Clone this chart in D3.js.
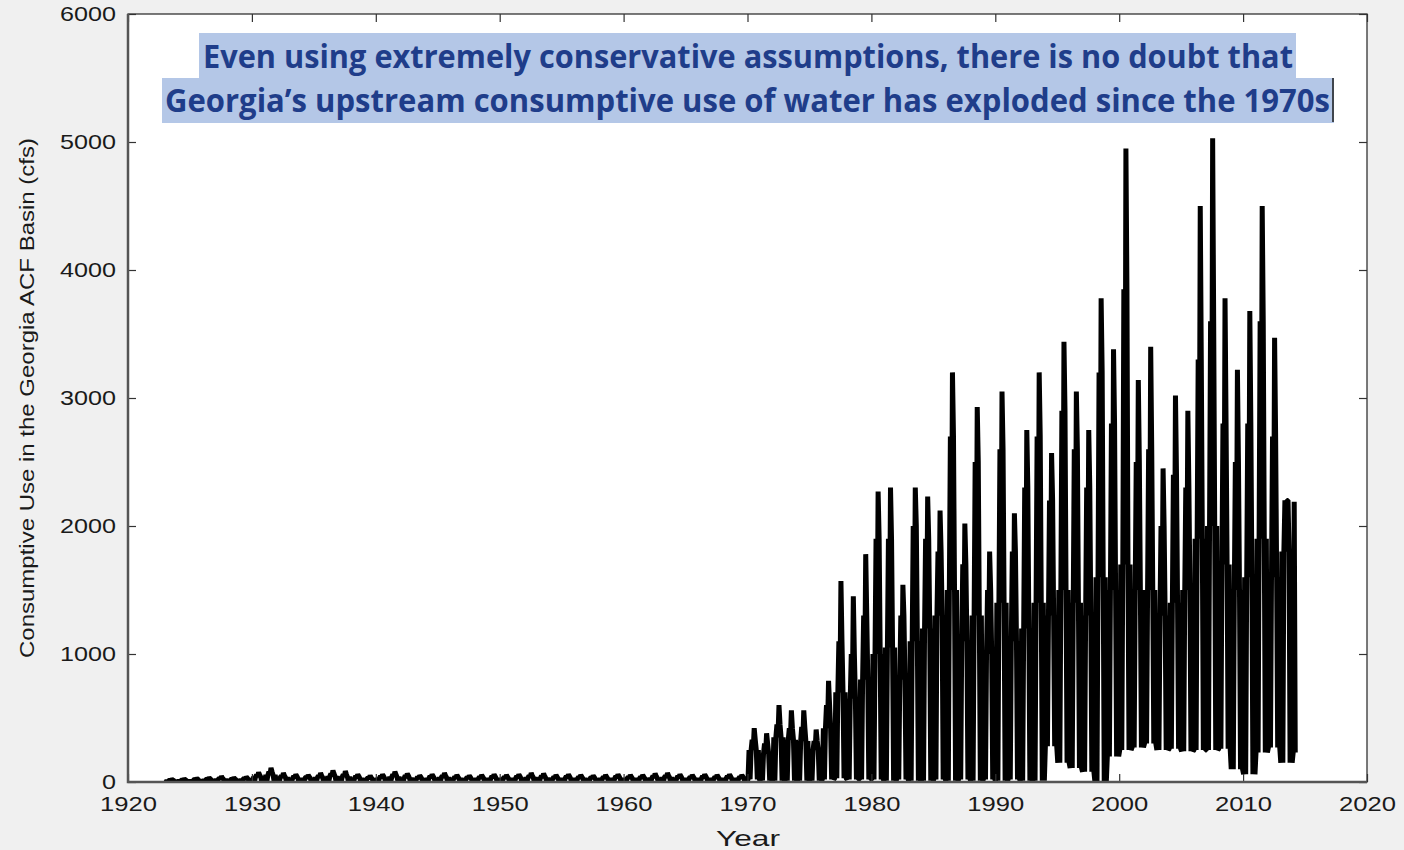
<!DOCTYPE html>
<html>
<head>
<meta charset="utf-8">
<script src="https://cdn.jsdelivr.net/npm/d3@7"></script>
<style>
  body { margin: 0; background: #f0f0f0; }
  svg { display: block; }
</style>
</head>
<body>
<svg width="1404" height="850"></svg>
<script>
// yearly values, 1923 .. 2014
var firstYear = 1923;
var annualPeak = [
    20, 25, 30, 35, 45, 35, 40,
    75, 110, 70, 60, 55, 70, 90, 85, 60, 50,
    60, 80, 65, 50, 60, 70, 55, 50, 55, 60,
    55, 60, 70, 65, 55, 60, 55, 50, 55, 60,
    55, 55, 65, 70, 60, 55, 60, 55, 60, 55,
    420, 380, 600, 560, 560, 410, 790, 1570, 1450, 1780,
    2270, 2300, 1540, 2300, 2230, 2120, 3200, 2020, 2930, 1800,
    3050, 2100, 2750, 3200, 2570, 3440, 3050, 2750, 3780, 3380,
    4950, 3140, 3400, 2450, 3020, 2900, 4500, 5030, 3780, 3220,
    3680, 4500, 3470, 2200, 2190
];
var annualSecond = [
    15, 18, 22, 25, 30, 25, 30,
    55, 80, 50, 45, 40, 50, 65, 60, 45, 35,
    45, 60, 50, 40, 45, 50, 40, 38, 40, 45,
    40, 45, 50, 48, 40, 45, 40, 38, 40, 45,
    40, 40, 48, 50, 45, 40, 45, 40, 45, 40,
    330, 300, 450, 420, 430, 320, 600, 1100, 1000, 1300,
    1900, 1900, 1300, 2000, 1900, 1800, 2700, 1700, 2500, 1500,
    2600, 1800, 2300, 2700, 2200, 2900, 2600, 2300, 3200, 2800,
    3850, 2500, 2600, 2000, 2400, 2300, 3300, 3600, 2800, 2500,
    2800, 3600, 2700, 2200, 1800
];
var annualMid = [
    10, 12, 15, 18, 22, 18, 20,
    40, 55, 35, 30, 30, 35, 45, 40, 30, 25,
    30, 40, 32, 25, 30, 35, 28, 25, 28, 30,
    28, 30, 35, 32, 28, 30, 28, 25, 28, 30,
    28, 28, 32, 35, 30, 28, 30, 28, 30, 28,
    250, 220, 350, 330, 320, 250, 420, 700, 650, 800,
    1000, 1050, 800, 1100, 1200, 1300, 1500, 1100, 1300, 1000,
    1400, 1100, 1200, 1400, 1300, 1500, 1400, 1300, 1600, 1500,
    1700, 1500, 1500, 1300, 1400, 1500, 1900, 2000, 1700, 1500,
    1600, 1900, 1600, 1800, 2190
];
var annualLow = [
    0, 0, 0, 2, 3, 2, 3,
    5, 8, 5, 5, 5, 5, 6, 5, 5, 5,
    5, 5, 5, 5, 5, 5, 5, 5, 5, 5,
    5, 5, 5, 5, 5, 5, 5, 5, 5, 5,
    5, 5, 5, 5, 5, 5, 5, 5, 5, 5,
    20, 10, 10, 10, 10, 10, 20, 30, 20, 20,
    20, 10, 20, 10, 10, 20, 10, 20, 10, 20,
    10, 20, 10, 10, 280, 150, 110, 80, 0, 200,
    250, 270, 300, 250, 260, 240, 250, 250, 260, 100,
    60, 230, 270, 150, 230
];
var lastYearEnd = 2014.22;  // record stops here

var xTicks = [1920, 1930, 1940, 1950, 1960, 1970, 1980, 1990, 2000, 2010, 2020];
var yTicks = [0, 1000, 2000, 3000, 4000, 5000, 6000];
var titleLines = [
    'Even using extremely conservative assumptions, there is no doubt that',
    'Georgia\u2019s upstream consumptive use of water has exploded since the 1970s'
];
var xTitle = 'Year';
var yTitle = 'Consumptive Use in the Georgia ACF Basin (cfs)';

var svg = d3.select('svg');
var plot = {left: 128, right: 1367, top: 14, bottom: 782};

var xScale = d3.scaleLinear().domain([1920, 2020]).range([plot.left, plot.right]);
var yScale = d3.scaleLinear().domain([0, 6000]).range([plot.bottom, plot.top]);

// monthly order of the yearly readings: which reading each month takes
var monthPattern = ['low', 'mid', 'low', 'mid', 'second', 'mid', 'peak', 'second', 'mid', 'low', 'mid', 'low'];

var series = [];
annualPeak.forEach(function(p, i) {
    var yr = firstYear + i;
    var v = {low: annualLow[i], mid: annualMid[i], second: annualSecond[i], peak: p};
    monthPattern.forEach(function(k, m) {
        series.push([yr + (m + 0.5) / 12, v[k]]);
    });
});
series = series.filter(function(d) { return d[0] <= lastYearEnd; });

svg.append('rect')
    .attr('x', plot.left).attr('y', plot.top)
    .attr('width', plot.right - plot.left).attr('height', plot.bottom - plot.top)
    .attr('fill', '#fff');

svg.append('clipPath').attr('id', 'clip')
  .append('rect')
    .attr('x', plot.left).attr('y', plot.top)
    .attr('width', plot.right - plot.left).attr('height', plot.bottom - plot.top);

var line = d3.line()
    .x(function(d) { return xScale(d[0]); })
    .y(function(d) { return yScale(d[1]); });

svg.append('path')
    .datum(series)
    .attr('clip-path', 'url(#clip)')
    .attr('d', line)
    .attr('fill', 'none')
    .attr('stroke', '#000')
    .attr('stroke-width', 5)
    .attr('stroke-linejoin', 'bevel');

// axes, matlab style: ticks inside on all four sides
var tickFont = 'Liberation Sans, Arial, sans-serif';

var xAxis = svg.append('g')
    .attr('transform', 'translate(0,' + plot.bottom + ')')
    .call(d3.axisBottom(xScale).tickValues(xTicks).tickSizeInner(-8).tickSizeOuter(0).tickPadding(14).tickFormat(d3.format('d')));
xAxis.selectAll('text')
    .attr('font-family', tickFont).attr('font-size', 21).attr('fill', '#1a1a1a')
    .attr('textLength', 57).attr('lengthAdjust', 'spacingAndGlyphs');

var yAxis = svg.append('g')
    .attr('transform', 'translate(' + plot.left + ',0)')
    .call(d3.axisLeft(yScale).tickValues(yTicks).tickSizeInner(-8).tickSizeOuter(0).tickPadding(12).tickFormat(d3.format('d')));
yAxis.selectAll('text')
    .attr('font-family', tickFont).attr('font-size', 21).attr('fill', '#1a1a1a')
    .attr('textLength', function(d) { return String(d).length * 14; })
    .attr('lengthAdjust', 'spacingAndGlyphs');

svg.append('g')
    .attr('transform', 'translate(0,' + plot.top + ')')
    .call(d3.axisTop(xScale).tickValues(xTicks).tickSizeInner(-8).tickSizeOuter(0).tickFormat(''));
svg.append('g')
    .attr('transform', 'translate(' + plot.right + ',0)')
    .call(d3.axisRight(yScale).tickValues(yTicks).tickSizeInner(-8).tickSizeOuter(0).tickFormat(''));

svg.selectAll('.domain').remove();
svg.selectAll('.tick line').attr('stroke', '#333').attr('stroke-width', 1.2);

// frame, left and bottom drawn a little heavier
svg.append('rect')
    .attr('x', plot.left).attr('y', plot.top)
    .attr('width', plot.right - plot.left).attr('height', plot.bottom - plot.top)
    .attr('fill', 'none').attr('stroke', '#333').attr('stroke-width', 1.3);
svg.append('path')
    .attr('d', 'M' + plot.left + ',' + plot.top + 'V' + plot.bottom + 'H' + plot.right)
    .attr('fill', 'none').attr('stroke', '#555').attr('stroke-width', 2.5);

svg.append('text')
    .attr('x', 748).attr('y', 846)
    .attr('text-anchor', 'middle')
    .attr('font-family', tickFont).attr('font-size', 22).attr('fill', '#1a1a1a')
    .attr('textLength', 64).attr('lengthAdjust', 'spacingAndGlyphs')
    .text(xTitle);

svg.append('text')
    .attr('transform', 'translate(34,398) rotate(-90)')
    .attr('text-anchor', 'middle')
    .attr('font-family', tickFont).attr('font-size', 21).attr('fill', '#1a1a1a')
    .attr('textLength', 520).attr('lengthAdjust', 'spacingAndGlyphs')
    .text(yTitle);

// highlighted title
var titleBoxes = [
    {x0: 199, x1: 1296, y0: 33, y1: 78, tx0: 203, tx1: 1293, base: 68},
    {x0: 162, x1: 1334, y0: 78, y1: 123, tx0: 165, tx1: 1330, base: 112}
];
titleBoxes.forEach(function(b, i) {
    svg.append('rect')
        .attr('x', b.x0).attr('y', b.y0)
        .attr('width', b.x1 - b.x0).attr('height', b.y1 - b.y0)
        .attr('fill', '#b4c7e7');
    svg.append('text')
        .attr('x', b.tx0).attr('y', b.base)
        .attr('font-family', 'Open Sans, sans-serif').attr('font-weight', 700)
        .attr('font-size', 32).attr('fill', '#1f3d8a')
        .attr('textLength', b.tx1 - b.tx0).attr('lengthAdjust', 'spacingAndGlyphs')
        .text(titleLines[i]);
});
svg.append('line')
    .attr('x1', 1333).attr('x2', 1333).attr('y1', 78).attr('y2', 122)
    .attr('stroke', '#1a1a1a').attr('stroke-width', 1.5);
</script>
</body>
</html>
